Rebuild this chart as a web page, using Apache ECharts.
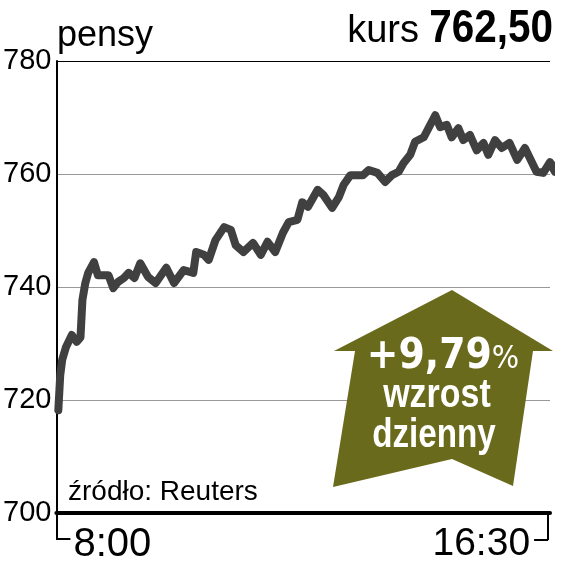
<!DOCTYPE html>
<html>
<head>
<meta charset="utf-8">
<script src="https://cdn.jsdelivr.net/npm/echarts@6/dist/echarts.min.js"></script>
<style>
html,body{margin:0;padding:0;background:#fff;}
#c{width:564px;height:566px;}
</style>
</head>
<body>
<div id="c"></div>
<script>
// minutes after 8:00
const minutes = [2,4,6,10,16,21,25,27,30,33,39,43,49,54,59,64,70,75,81,87,95,103,114,122,132,142,145,153,158,165,174,181,186,194,204,212,219,227,235,241,250,255,261,271,277,286,293,298,305,318,324,333,341,348,355,360,367,372,381,386,393,398,405,410,417,422,429,436,443,448,455,462,470,478,486,498,505,512,517,522];
const prices = [718.2,724.4,727.1,729.4,731.5,730.3,731.1,737.7,740.7,742.5,744.4,742.1,742.1,742.1,739.8,740.9,741.6,742.5,741.6,744.2,741.8,740.7,743.4,740.7,743.0,742.5,746.2,745.7,744.8,748.3,750.6,750.1,747.4,746.2,747.8,745.7,748.0,746.2,749.6,751.5,751.9,755.0,754.2,757.2,756.3,754.0,755.9,758.1,759.8,759.8,760.7,760.2,758.6,759.8,760.4,761.9,763.4,765.7,766.5,768.1,770.4,768.3,768.7,766.5,768.1,766.0,766.9,764.2,765.5,763.4,766.0,764.6,765.5,762.5,764.6,760.4,760.2,762.1,760.4,762.5];
const xTickValues = [0, 510];
const xTickLabels = ['8:00', '16:30'];
const yTicks = [700, 720, 740, 760, 780];
const title = 'pensy';
const kursLabel = 'kurs';
const kursValue = '762,50';
const changeText = '+9,79';
const changeLines = ['wzrost', 'dzienny'];
const sourceText = 'źródło: Reuters';

const chart = echarts.init(document.getElementById('c'));
const data = minutes.map((m, i) => [m, prices[i]]);

chart.setOption({
  animation: false,
  grid: {left: 55, right: 14, top: 61, bottom: 53},
  xAxis: {
    type: 'value', min: 0, max: 512,
    axisLine: {show: true, lineStyle: {color: '#000', width: 4}},
    splitLine: {show: false},
    axisTick: {show: true, customValues: xTickValues, length: 27, lineStyle: {color: '#000', width: 2}},
    axisLabel: {
      show: true, customValues: xTickValues, margin: 12,
      alignMinLabel: 'left', alignMaxLabel: 'right',
      formatter: v => v === 0 ? '{a|' + xTickLabels[0] + '}' : '{b|' + xTickLabels[1] + '}',
      rich: {
        a: {fontFamily: 'Liberation Sans', fontSize: 40, color: '#000', padding: [0, 0, 0, 17]},
        b: {fontFamily: 'Liberation Sans', fontSize: 39, color: '#000', padding: [0, 18, 0, 0]}
      }
    }
  },
  yAxis: {
    type: 'value', min: yTicks[0], max: yTicks[yTicks.length - 1], interval: 20,
    axisLine: {show: true, lineStyle: {color: '#000', width: 2}},
    axisTick: {show: false},
    axisLabel: {fontFamily: 'Liberation Sans', fontSize: 29, color: '#000', margin: 5},
    splitLine: {show: true, lineStyle: {color: ['#000', '#999', '#999', '#999', '#000'], width: 1}}
  },
  series: [{
    type: 'line', data: data, symbol: 'none', clip: false,
    lineStyle: {color: '#404040', width: 8, cap: 'round', join: 'round'},
    z: 3
  }]
});

function px(x, y) { return chart.convertToPixel({gridIndex: 0}, [x, y]); }
const p0 = px(0, 700), p1 = px(510, 700);
const arrowColor = '#6a6a1c';

chart.setOption({
  graphic: [
    {type: 'line', shape: {x1: p0[0], y1: p0[1] + 26, x2: p0[0] + 14, y2: p0[1] + 26}, style: {stroke: '#000', lineWidth: 2}, z: 10},
    {type: 'line', shape: {x1: p1[0], y1: p1[1] + 27, x2: p1[0] - 14, y2: p1[1] + 27}, style: {stroke: '#000', lineWidth: 2}, z: 10},
    {type: 'text', left: 57, top: 18, style: {text: title, fontFamily: 'Liberation Sans', fontSize: 36, fill: '#000'}},
    {type: 'text', x: 553, y: 29, scaleX: 0.88, style: {text: kursValue, align: 'right', verticalAlign: 'middle',
      fontFamily: 'Liberation Sans', fontWeight: 'bold', fontSize: 46, fill: '#000'}},
    {type: 'text', x: 419, y: 32, style: {text: kursLabel, align: 'right', verticalAlign: 'middle',
      fontFamily: 'Liberation Sans', fontSize: 38, fill: '#000'}},
    {type: 'text', left: 68, top: 478, style: {text: sourceText, fontFamily: 'Liberation Sans', fontSize: 28, fill: '#000'}},
    {type: 'polygon', shape: {points: [[452, 290], [553, 351], [533, 351], [513, 486], [452, 459], [333, 487], [355, 351], [334, 351]]},
      style: {fill: arrowColor}, z: 20},
    {type: 'text', x: 443, y: 357, z: 21, style: {
      text: '{a|' + changeText + '}{b|%}', align: 'center', verticalAlign: 'middle',
      rich: {
        a: {fontFamily: 'DejaVu Sans Condensed', fontWeight: 'bold', fontSize: 42, fill: '#fff'},
        b: {fontFamily: 'DejaVu Sans Condensed', fontSize: 32, fill: '#fff', verticalAlign: 'bottom', padding: [0, 0, 2, 0]}
      }
    }},
    {type: 'text', x: 437, y: 396, z: 21, scaleX: 0.85, style: {text: changeLines[0], align: 'center', verticalAlign: 'middle', fontFamily: 'Liberation Sans', fontWeight: 'bold', fontSize: 40, fill: '#fff'}},
    {type: 'text', x: 434, y: 436, z: 21, scaleX: 0.83, style: {text: changeLines[1], align: 'center', verticalAlign: 'middle', fontFamily: 'Liberation Sans', fontWeight: 'bold', fontSize: 40, fill: '#fff'}}
  ]
});
</script>
</body>
</html>
